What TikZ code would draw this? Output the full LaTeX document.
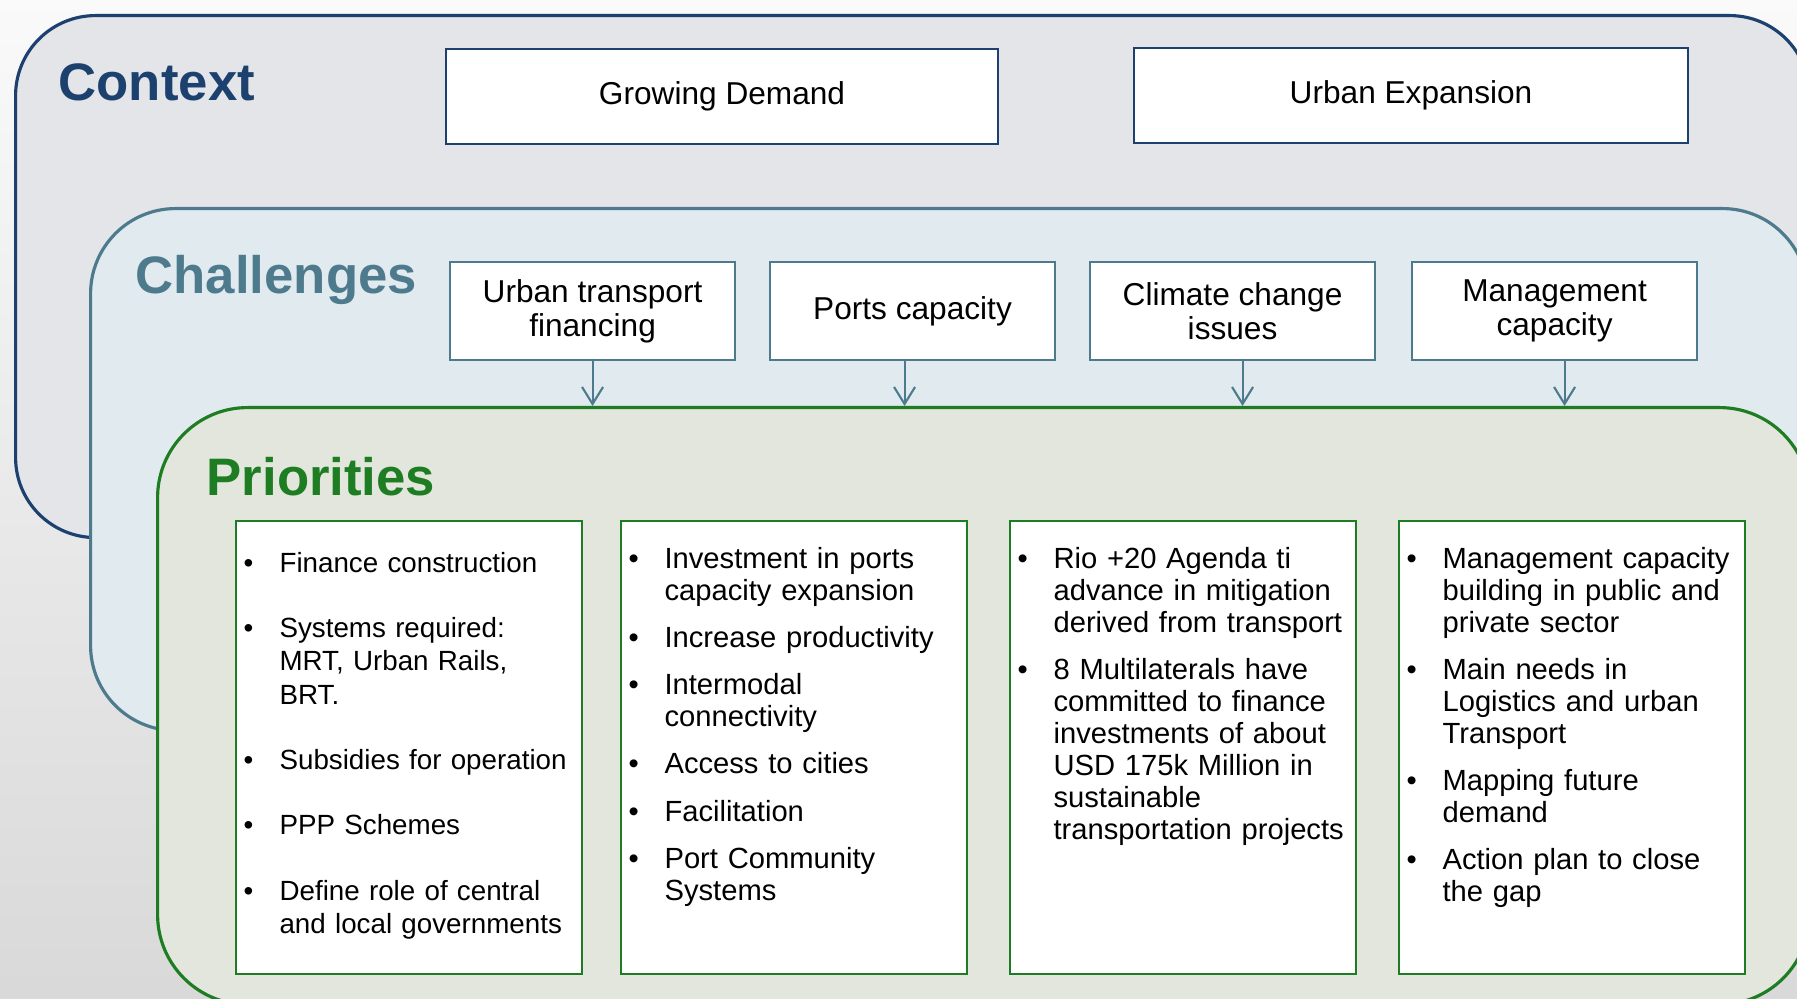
\documentclass[tikz,border=0pt]{standalone}
\usepackage{fontspec}
\setmainfont{Liberation Sans}
\usepackage{enumitem}
\usetikzlibrary{arrows.meta}
\usetikzlibrary{positioning}
\setlist[itemize]{label=\textbullet, leftmargin=10.2pt, labelwidth=10.2pt,
                  labelsep=0pt, align=left, topsep=0pt, partopsep=0pt,
                  parsep=0pt, itemsep=4.3pt}
\tikzset{panel/.style = {line width=0.9pt, rounded corners=8.5mm,
                         anchor=north west, inner sep=0pt},
         paneltitle/.style = {anchor=base west, inner sep=0pt,
                              font=\fontsize{15}{18}\selectfont\bfseries},
         ctxbox/.style = {draw=cnavy, line width=0.6pt, fill=white, anchor=north west,
                          minimum height=9.5mm, font=\fontsize{9}{10}\selectfont},
         chbox/.style = {draw=csteel, line width=0.6pt, fill=white, anchor=north west,
                         minimum width=28.5mm, minimum height=9.8mm, align=center,
                         font=\fontsize{9}{9.7}\selectfont},
         pribox/.style = {draw=cgreen, line width=0.6pt, fill=white, anchor=north west,
                          minimum width=34.6mm, minimum height=45.3mm},
         pritext/.style = {anchor=north west, inner sep=0pt, text width=34mm, align=left,
                           font=\fontsize{8.3}{9.1}\selectfont},
         flow/.style = {csteel, line width=0.6pt,
                        -{Straight Barb[length=1.7mm, width=2.1mm]}}}
\definecolor{cnavy}{HTML}{1D416F}
\definecolor{csteel}{HTML}{4D7B8D}
\definecolor{cgreen}{HTML}{1E7D22}
\definecolor{cfill}{HTML}{E4E5E8}
\definecolor{sfill}{HTML}{E1EAEE}
\definecolor{pfill}{HTML}{E2E6DD}

\begin{document}
\begin{tikzpicture}[x=0.1mm, y=-0.1mm]
    \useasboundingbox (0, 0) rectangle (1797, 999);
    \clip (0, 0) rectangle (1797, 999);
    \shade [top color=white!98!black, bottom color=white!85!black] (0, 0) rectangle (1797, 999);

    % context
    \node [panel, draw=cnavy, fill=cfill, rounded corners=8mm,
           minimum width=179.4mm, minimum height=52.2mm] (context) at (14, 14) {};
    \node [paneltitle, text=cnavy] (ctxtitle) at (58, 101) {Context};
    \node [ctxbox, minimum width=55.2mm] (demand) at (445, 48) {Growing Demand};
    \node [ctxbox, minimum width=55.4mm] (expansion) at (1133, 47) {Urban Expansion};

    % challenges
    \node [panel, draw=csteel, fill=sfill,
           minimum width=171.7mm, minimum height=52.2mm] (challenges) at (89, 207) {};
    \node [paneltitle, text=csteel] (chtitle) at (135, 294) {Challenges};
    \node [chbox] (c1) at (449, 261) {Urban transport\\financing};
    \node [chbox] (c2) at (769, 261) {Ports capacity};
    \node [chbox] (c3) at (1089, 261) {Climate change\\issues};
    \node [chbox] (c4) at (1411, 261) {Management\\capacity};

    % priorities
    \node [panel, draw=cgreen, fill=pfill, rounded corners=9mm,
           minimum width=165.2mm, minimum height=59.7mm] (priorities) at (156, 406) {};
    \node [paneltitle, text=cgreen] (prtitle) at (206, 496) {Priorities};

    \draw [flow] (c1.south) -- (c1.south |- priorities.north);
    \draw [flow] ([xshift=-0.8mm]c2.south) -- ([xshift=-0.8mm]c2.south |- priorities.north);
    \draw [flow] ([xshift=1mm]c3.south) -- ([xshift=1mm]c3.south |- priorities.north);
    \draw [flow] ([xshift=1mm]c4.south) -- ([xshift=1mm]c4.south |- priorities.north);

    \node [pribox] (p1) at (235, 520) {};
    \node [pribox] (p2) at (620, 520) {};
    \node [pribox] (p3) at (1009, 520) {};
    \node [pribox] (p4) at (1398, 520) {};

    \node [pritext, font=\fontsize{7.9}{9.5}\selectfont] (p1list)
          at ([xshift=0.8mm, yshift=-1.8mm]p1.north west) {%
      \begin{itemize}[itemsep=9.1pt]
        \item Finance construction
        \item Systems required:\newline MRT, Urban Rails,\newline BRT.
        \item Subsidies for operation
        \item PPP Schemes
        \item Define role of central\newline and local governments
      \end{itemize}};
    \node [pritext] (p2list) at ([xshift=0.8mm, yshift=-1.6mm]p2.north west) {%
      \begin{itemize}
        \item Investment in ports\newline capacity expansion
        \item Increase productivity
        \item Intermodal\newline connectivity
        \item Access to cities
        \item Facilitation
        \item Port Community\newline Systems
      \end{itemize}};
    \node [pritext] (p3list) at ([xshift=0.8mm, yshift=-1.6mm]p3.north west) {%
      \begin{itemize}
        \item Rio +20 Agenda ti\newline advance in mitigation\newline derived from transport
        \item 8 Multilaterals have\newline committed to finance\newline investments of about\newline
              USD 175k Million in\newline sustainable\newline transportation projects
      \end{itemize}};
    \node [pritext] (p4list) at ([xshift=0.8mm, yshift=-1.6mm]p4.north west) {%
      \begin{itemize}
        \item Management capacity\newline building in public and\newline private sector
        \item Main needs in\newline Logistics and urban\newline Transport
        \item Mapping future\newline demand
        \item Action plan to close\newline the gap
      \end{itemize}};
\end{tikzpicture}
\end{document}
